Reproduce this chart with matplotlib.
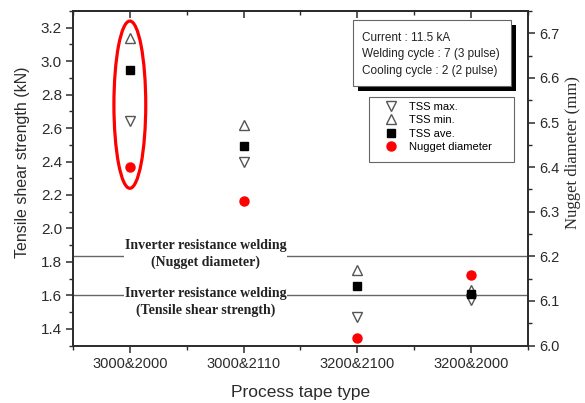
import matplotlib

matplotlib.use("Agg")
import matplotlib.pyplot as plt
from matplotlib.lines import Line2D
from matplotlib.patches import Ellipse, Rectangle
from matplotlib.ticker import MultipleLocator, FixedLocator

plt.rcParams["font.family"] = ["Liberation Sans", "DejaVu Sans"]

# values
tapes = ["3000&2000", "3000&2110", "3200&2100", "3200&2000"]
tss_max = [2.64, 2.40, 1.47, 1.57]     # drawn as down triangles
tss_min = [3.14, 2.62, 1.75, 1.63]     # drawn as up triangles
tss_ave = [2.95, 2.49, 1.655, 1.61]
nugget = [6.40, 6.325, 6.017, 6.157]   # mm, right axis
ref_tss = 1.6                          # kN
ref_nugget = 6.2                       # mm

INK = "#2b2b2b"
EDGE = "#555555"
RED = "#ff0000"
W, H = 585, 403
SERIF = ["Liberation Serif", "DejaVu Serif"]

fig = plt.figure(figsize=(5.85, 4.03), dpi=100)
ax1 = fig.add_axes([73 / W, 1 - 345.5 / H, (527.7 - 73) / W, (345.5 - 11) / H])
ax2 = ax1.twinx()

x = list(range(1, len(tapes) + 1))

ax1.axhline(ref_tss, color="#666666", lw=1.0, zorder=1)
ax2.axhline(ref_nugget, color="#666666", lw=1.0, zorder=1)

tri = dict(ls="none", ms=7, mfc="white", mec=EDGE, mew=1.0)
sq = dict(ls="none", marker="s", ms=5.2, mfc="black", mec="black")
dot = dict(ls="none", marker="o", ms=6.5, mfc=RED, mec=RED)

ax1.plot(x, tss_max, marker="v", zorder=3, **tri)
ax1.plot(x, tss_min, marker="^", zorder=3, **tri)
ax1.plot(x, tss_ave, zorder=4, **sq)
ax2.plot(x, nugget, zorder=4, **dot)

ax1.add_patch(Ellipse((1, 2.74), width=0.28, height=1.0, fill=False,
                      ec=RED, lw=2.3, zorder=5))

ax1.set_xlim(0.5, len(tapes) + 0.5)
ax1.set_ylim(1.3, 3.3)
ax2.set_ylim(6.0, 6.75)

minor_x = [v + 0.5 for v in range(0, len(tapes) + 1)]
ax1.xaxis.set_major_locator(FixedLocator(x))
ax1.xaxis.set_minor_locator(FixedLocator(minor_x))
ax1.set_xticklabels(tapes)
ax1.yaxis.set_major_locator(MultipleLocator(0.2))
ax1.yaxis.set_minor_locator(MultipleLocator(0.1))
ax2.yaxis.set_major_locator(MultipleLocator(0.1))
ax2.yaxis.set_minor_locator(MultipleLocator(0.05))

for ax in (ax1, ax2):
    for s in ax.spines.values():
        s.set_color(INK)
        s.set_linewidth(1.2)
    ax.tick_params(which="major", direction="out", length=5, width=1.1, color=INK,
                   labelcolor=INK, pad=3)
    ax.tick_params(which="minor", direction="out", length=3, width=1.0, color=INK)
ax1.tick_params(axis="x", labelsize=10.5)
ax1.tick_params(axis="y", labelsize=11)
ax2.tick_params(axis="y", labelsize=10.5)

top = ax1.secondary_xaxis("top")
top.xaxis.set_major_locator(FixedLocator(x))
top.xaxis.set_minor_locator(FixedLocator(minor_x))
top.tick_params(which="major", direction="in", length=5, width=1.1, color=INK,
                labeltop=False)
top.tick_params(which="minor", direction="in", length=3, width=1.0, color=INK)
top.spines["top"].set_color(INK)
top.spines["top"].set_linewidth(1.2)

ax1.set_xlabel("Process tape type", fontsize=12.5, color=INK, labelpad=10)
ax1.set_ylabel("Tensile shear strength (kN)", fontsize=11.5, color=INK)
ax1.yaxis.set_label_coords(-0.094, 0.549)
ax2.set_ylabel("Nugget diameter (mm)", fontsize=12, color=INK, family=SERIF)
ax2.yaxis.set_label_coords(1.081, 0.578)

# reference-line captions, white background hides the line behind them
for yfrac, txt in ((0.2735, "Inverter resistance welding\n(Nugget diameter)"),
                   (0.131, "Inverter resistance welding\n(Tensile shear strength)")):
    ax2.text(0.291, yfrac, txt, transform=ax2.transAxes, ha="center", va="center",
             fontsize=10, fontweight="bold", color="#222222", linespacing=1.35,
             family=SERIF, zorder=6,
             bbox=dict(facecolor="white", edgecolor="none", pad=0.5))


def fig_rect(x0, y0, x1, y1, **kw):
    # pixel box (top-left origin) -> figure-fraction rectangle
    return Rectangle((x0 / W, 1 - y1 / H), (x1 - x0) / W, (y1 - y0) / H,
                     transform=fig.transFigure, **kw)


# condition box with drop shadow
fig.patches.append(fig_rect(357.5, 24.5, 515.5, 90.5, facecolor="black", edgecolor="none", zorder=10))
fig.patches.append(fig_rect(352.7, 20, 511, 86, facecolor="white", edgecolor="#666666", lw=0.8, zorder=11))
fig.text(362 / W, 1 - 54.5 / H,
         "Current : 11.5 kA\nWelding cycle : 7 (3 pulse)\nCooling cycle : 2 (2 pulse)",
         ha="left", va="center", fontsize=8.5, color="#222222", linespacing=1.45, zorder=12)

# legend: frame drawn separately so the padding can be uneven like the original
fig.patches.append(fig_rect(369, 97, 514, 162, facecolor="white", edgecolor="#666666", lw=0.8, zorder=11))
handles = [
    Line2D([], [], marker="v", **tri),
    Line2D([], [], marker="^", **tri),
    Line2D([], [], **sq),
    Line2D([], [], **dot),
]
labels = ["TSS max.", "TSS min.", "TSS ave.", "Nugget diameter"]
leg = fig.legend(handles, labels, loc="upper left", bbox_to_anchor=(385.5 / W, 1 - 101.5 / H),
                 bbox_transform=fig.transFigure, borderaxespad=0, borderpad=0,
                 fontsize=8, frameon=False, handlelength=1.0, handletextpad=1.1,
                 labelspacing=0.32)
leg.set_zorder(12)

fig.savefig("out.png", dpi=100, facecolor="white")
